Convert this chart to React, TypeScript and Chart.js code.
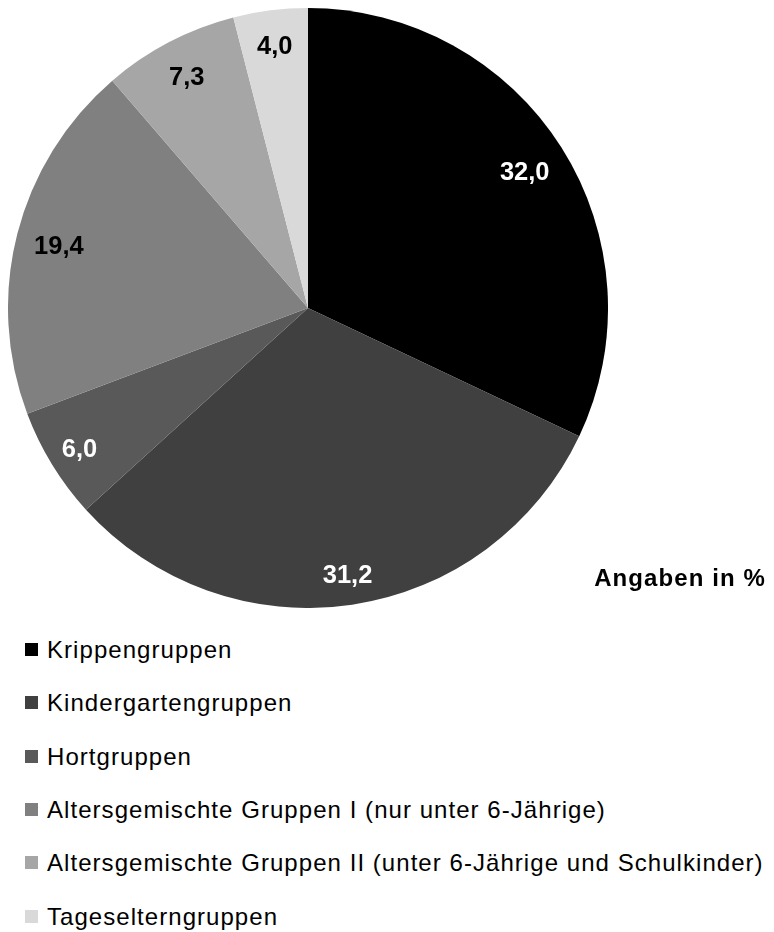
import React, { useEffect, useRef } from "react";
import { Chart, registerables } from "chart.js";

Chart.register(...registerables);

const categories = [
  "Krippengruppen",
  "Kindergartengruppen",
  "Hortgruppen",
  "Altersgemischte Gruppen I (nur unter 6-Jährige)",
  "Altersgemischte Gruppen II (unter 6-Jährige und Schulkinder)",
  "Tageselterngruppen",
];
const values = [32.0, 31.2, 6.0, 19.4, 7.3, 4.0];
const valueLabels = ["32,0", "31,2", "6,0", "19,4", "7,3", "4,0"];
const colors = ["#000000", "#404040", "#595959", "#808080", "#a6a6a6", "#d9d9d9"];
const labelColors = ["#ffffff", "#ffffff", "#ffffff", "#000000", "#000000", "#000000"];
const labelRadius = [0.855, 0.895, 0.893, 0.857, 0.873, 0.885];
const unitNote = "Angaben in %";

const FONT = "'Liberation Sans', Arial, Helvetica, sans-serif";

const valueLabelPlugin = {
  id: "valueLabels",
  afterDatasetsDraw(chart: any) {
    const ctx = chart.ctx;
    const meta = chart.getDatasetMeta(0);
    ctx.save();
    ctx.font = `bold 25.5px ${FONT}`;
    ctx.textAlign = "center";
    ctx.textBaseline = "middle";
    meta.data.forEach((arc: any, i: number) => {
      const p = arc.getProps(["x", "y", "startAngle", "endAngle", "outerRadius"], true);
      const mid = (p.startAngle + p.endAngle) / 2;
      const r = p.outerRadius * labelRadius[i];
      const x = p.x + Math.cos(mid) * r;
      const y = p.y + Math.sin(mid) * r;
      ctx.fillStyle = labelColors[i];
      ctx.fillText(valueLabels[i], x, y + 2.5);
    });
    ctx.restore();
  },
};

export default function App() {
  const canvasRef = useRef<HTMLCanvasElement | null>(null);

  useEffect(() => {
    if (!canvasRef.current) return;
    const chart = new Chart(canvasRef.current, {
      type: "pie",
      data: {
        labels: categories,
        datasets: [
          {
            data: values,
            backgroundColor: colors,
            borderWidth: 0,
          },
        ],
      },
      options: {
        animation: false,
        responsive: false,
        maintainAspectRatio: false,
        layout: { padding: 0 },
        plugins: {
          legend: { display: false },
          tooltip: { enabled: false },
        },
      },
      plugins: [valueLabelPlugin],
    });
    return () => chart.destroy();
  }, []);

  return (
    <div style={{ position: "relative", width: 758, height: 924, fontFamily: FONT }}>
      <canvas
        ref={canvasRef}
        width={600}
        height={600}
        style={{ position: "absolute", left: 0, top: 0, width: 600, height: 600 }}
      />
      <div
        style={{
          position: "absolute",
          right: 0,
          top: 570,
          fontSize: 24,
          fontWeight: "bold",
          lineHeight: "24px",
          letterSpacing: "1.1px",
          whiteSpace: "nowrap",
          color: "#000",
          transform: "translateY(-50%)",
        }}
      >
        {unitNote}
      </div>
      {categories.map((c, i) => (
        <div
          key={c}
          style={{
            position: "absolute",
            left: 17,
            top: 642 + i * 53.3,
            height: 24,
            display: "flex",
            alignItems: "center",
            whiteSpace: "nowrap",
            transform: "translateY(-50%)",
          }}
        >
          <span
            style={{
              display: "inline-block",
              width: 13,
              height: 13,
              background: colors[i],
              marginRight: 9,
              marginTop: -1,
            }}
          />
          <span style={{ fontSize: 24, lineHeight: "24px", letterSpacing: "1.05px", color: "#000" }}>
            {c}
          </span>
        </div>
      ))}
    </div>
  );
}
